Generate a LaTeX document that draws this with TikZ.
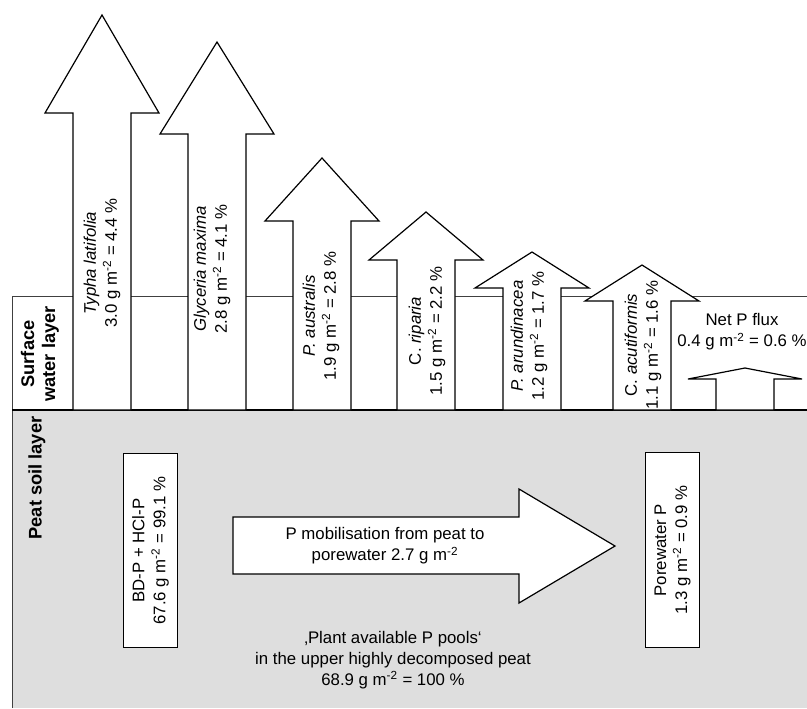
\documentclass[tikz,border=0pt]{standalone}
\usepackage{fontspec}
\setmainfont{Liberation Sans}
\definecolor{peatgray}{RGB}{222,222,222}

\begin{document}
\begin{tikzpicture}[
    x=0.75pt, y=-0.75pt,
    font=\fontsize{12.6}{15.75}\selectfont,
    % layers
    layerline/.style={draw=black!75, line width=0.6pt},
    layerlabel/.style={font=\fontsize{13.7}{15.75}\selectfont\bfseries, align=center, inner sep=0pt},
    % block arrows and pools
    blockarrow/.style={draw, fill=white, line width=0.9pt, line join=miter},
    arrowtext/.style={rotate=90, align=center, inner sep=0pt},
    poolbox/.style={rectangle, draw, fill=white, line width=0.9pt, rotate=90, align=center,
        minimum width=146pt, minimum height=40pt, inner sep=0pt},
    plaintext/.style={align=center, inner sep=0pt},
]
\useasboundingbox (0,0) rectangle (807,708);

% =========================================================
% Layers
% =========================================================
\fill[peatgray] (12,410) rectangle (807,708);
\draw[layerline] (12,708) -- (12,296) -- (807,296);
\draw[line width=0.9pt] (12,410) -- (807,410);

\node[layerlabel, rotate=90] (surflabel) at (40,354) {Surface\\water layer};
\node[layerlabel, rotate=90] (peatlabel) at (37,478) {Peat soil layer};

% =========================================================
% Plant uptake arrows (centre / head base / tip)
% =========================================================
\foreach \cx/\hy/\ty in {102/113/15, 217/134/42, 322/221/158, 426/260/212,
                         532/288/252, 642/301/265, 745/379/368}
  \draw[blockarrow] (\cx-29,410) -- (\cx-29,\hy) -- (\cx-57,\hy) -- (\cx,\ty)
                    -- (\cx+57,\hy) -- (\cx+29,\hy) -- (\cx+29,410) -- cycle;

\node[arrowtext] (typha)  at (102,263) {\textit{Typha latifolia}\\3.0 g m\textsuperscript{-2} = 4.4 \%};
\node[arrowtext] (glyc)   at (212,269) {\textit{Glyceria maxima}\\2.8 g m\textsuperscript{-2} = 4.1 \%};
\node[arrowtext] (paus)   at (321,316) {\textit{P. australis}\\1.9 g m\textsuperscript{-2} = 2.8 \%};
\node[arrowtext] (crip)   at (427,331) {C. \textit{riparia}\\1.5 g m\textsuperscript{-2} = 2.2 \%};
\node[arrowtext] (parund) at (529,336) {\textit{P. arundinacea}\\1.2 g m\textsuperscript{-2} = 1.7 \%};
\node[arrowtext] (cacut)  at (643,345) {C. \textit{acutiformis}\\1.1 g m\textsuperscript{-2} = 1.6 \%};

\node[plaintext] (netflux) at (742,332) {Net P flux\\0.4 g m\textsuperscript{-2} = 0.6 \%};

% =========================================================
% Peat pools and mobilisation
% =========================================================
\node[poolbox] (bdp)  at (150.5,550.5) {BD-P + HCl-P\\67.6 g m\textsuperscript{-2} = 99.1 \%};
\node[poolbox] (pore) at (672.5,550)   {Porewater P\\1.3 g m\textsuperscript{-2} = 0.9 \%};

\draw[blockarrow] (233,517) -- (519,517) -- (519,489) -- (615,546)
                  -- (519,603) -- (519,574) -- (233,574) -- cycle;
\node[plaintext] (mobil) at (385,546) {P mobilisation from peat to\\porewater 2.7 g m\textsuperscript{-2}};

\node[plaintext] (pools) at (393,660) {‚Plant available P pools‘\\in the upper highly decomposed peat\\68.9 g m\textsuperscript{-2} = 100 \%};

\end{tikzpicture}
\end{document}
